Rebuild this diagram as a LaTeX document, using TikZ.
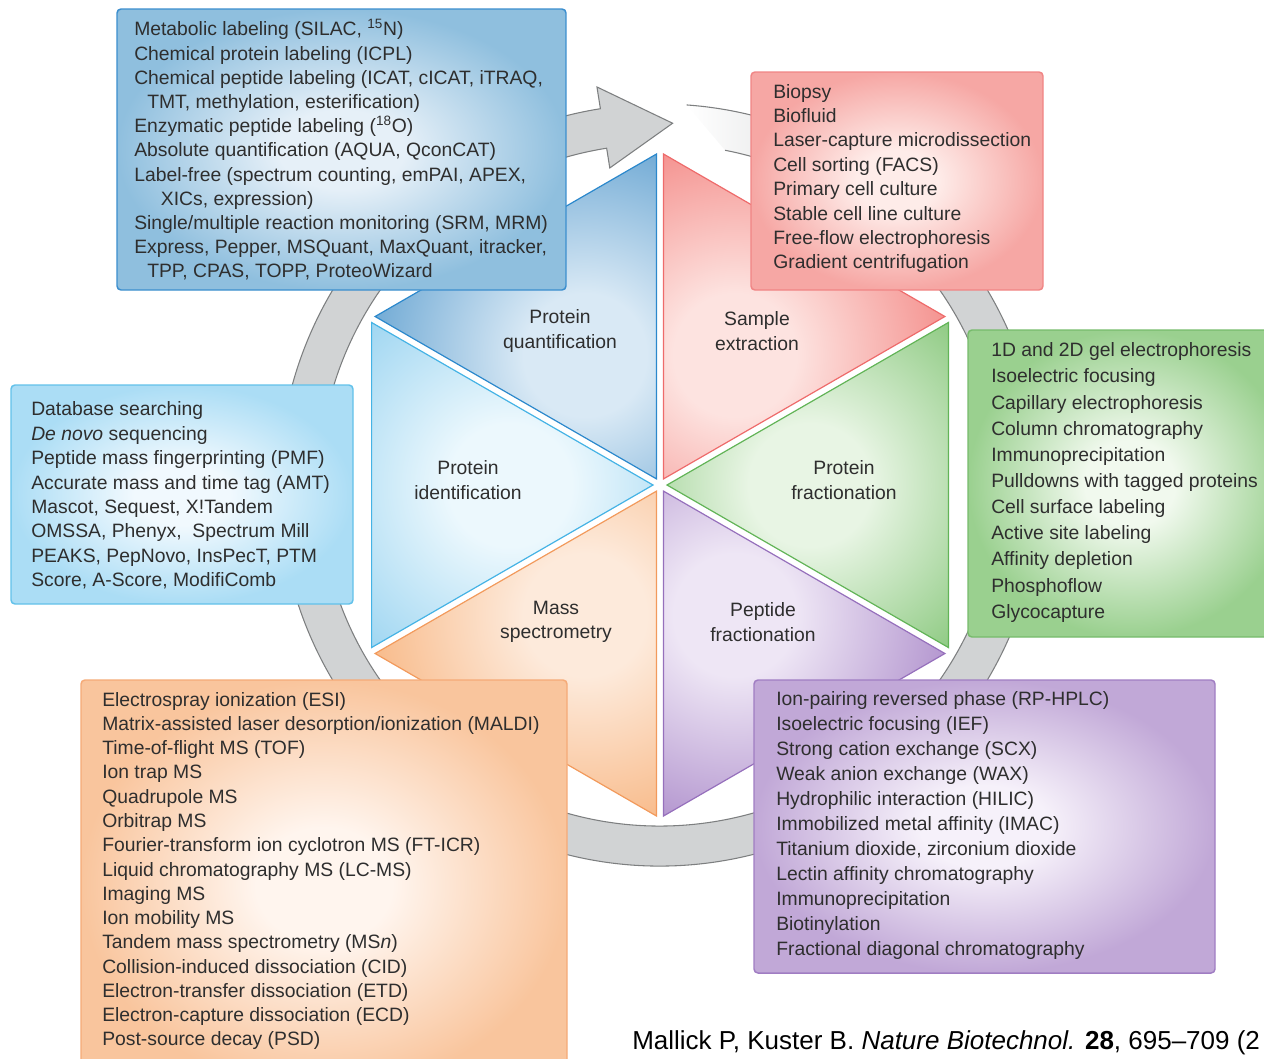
\documentclass[tikz,border=0pt]{standalone}
\usepackage{fontspec}
\setmainfont{Liberation Sans}
\usepackage{tikz}
\usetikzlibrary{calc}
\usepackage{xcolor}

\definecolor{txtgray}{RGB}{46,46,46}
\definecolor{ringfill}{RGB}{209,211,212}
\definecolor{ringedge}{RGB}{125,127,128}
% sector colours
\definecolor{qin}{HTML}{D9E9F5}\definecolor{qout}{HTML}{6FA9D4}\definecolor{qline}{HTML}{2B88CC}
\definecolor{ein}{HTML}{FDE3E0}\definecolor{eout}{HTML}{F4908D}\definecolor{eline}{HTML}{EE6B6B}
\definecolor{pfin}{HTML}{E8F5E4}\definecolor{pfout}{HTML}{8CC980}\definecolor{pfline}{HTML}{62B457}
\definecolor{pein}{HTML}{EEE6F5}\definecolor{peout}{HTML}{B294CE}\definecolor{peline}{HTML}{9670BC}
\definecolor{msin}{HTML}{FDEADB}\definecolor{msout}{HTML}{F8BA89}\definecolor{msline}{HTML}{F29A5C}
\definecolor{idin}{HTML}{ECF8FD}\definecolor{idout}{HTML}{9DD5F1}\definecolor{idline}{HTML}{45B3E5}
% box colours
\definecolor{bqin}{HTML}{E6F0F8}\definecolor{bqout}{HTML}{8FBFDE}\definecolor{bqline}{HTML}{3B8ECE}
\definecolor{bein}{HTML}{FEECE9}\definecolor{beout}{HTML}{F6A7A4}\definecolor{beline}{HTML}{F08585}
\definecolor{bpfin}{HTML}{F1F9EE}\definecolor{bpfout}{HTML}{9AD08F}\definecolor{bpfline}{HTML}{76BB6B}
\definecolor{bidin}{HTML}{F1F9FE}\definecolor{bidout}{HTML}{ABDDF5}\definecolor{bidline}{HTML}{62C1EA}
\definecolor{bmsin}{HTML}{FFF5EE}\definecolor{bmsout}{HTML}{F9C59D}\definecolor{bmsline}{HTML}{F5AA77}
\definecolor{bpein}{HTML}{F6F1FA}\definecolor{bpeout}{HTML}{C1A8D7}\definecolor{bpeline}{HTML}{A07DC3}

\colorlet{glowin}{white}
\colorlet{glowout}{gray}
\pgfdeclareradialshading[glowin,glowout]{glow}{\pgfpoint{0bp}{0bp}}{color(0bp)=(glowin); color(7bp)=(glowin); color(25bp)=(glowout); color(50bp)=(glowout)}

\begin{document}
\begin{tikzpicture}[x=0.75pt,y=0.75pt,yscale=-1,xscale=1,
  softfill/.style 2 args={/utils/exec={\colorlet{glowin}{#1}\colorlet{glowout}{#2}}, shade, shading=glow},
  listbox/.style n args={3}{softfill={#1}{#2}, draw=#3, rounded corners=3pt, line width=1.1pt},
  sectorrim/.style={draw=#1, line width=0.9pt, line join=miter},
  listtext/.style={anchor=west, align=left, inner sep=0pt, text=txtgray, font=\fontsize{14.5}{#1}\selectfont},
  sectorlabel/.style={align=center, inner sep=0pt, text=txtgray, font=\fontsize{14.5}{18.4}\selectfont},
  ring/.style={fill=ringfill, draw=ringedge, line width=0.8pt, line join=miter}]
\useasboundingbox (0,0) rectangle (1264,1058);

%Shape: Ring arrow
\coordinate (ringc) at (660,485);
\draw[ring] ($(ringc)+(-62:381)$) arc[start angle=-62, end angle=261, radius=381] -- ($(ringc)+(261:403)$) -- ($(ringc)+(272:362)$) -- ($(ringc)+(261:321)$) -- ($(ringc)+(261:341)$) arc[start angle=261, end angle=-62, radius=341] -- cycle;
%Shape: Ring tail (fading)
\shade[left color=white, right color=ringfill!75!white] ($(ringc)+(-86:381)$) arc[start angle=-86, end angle=-62, radius=381] -- ($(ringc)+(-62:341)$) arc[start angle=-62, end angle=-79, radius=341] -- cycle;
\draw[ringedge, line width=0.8pt] ($(ringc)+(-86:381)$) arc[start angle=-86, end angle=-62, radius=381];
\draw[ringedge, line width=0.8pt] ($(ringc)+(-79:341)$) arc[start angle=-79, end angle=-62, radius=341];

%Shape: Sector protein quantification
\begin{scope}
\clip (656.5,478.9) -- (656.5,154) -- (375.1,316.5) -- cycle;
\shade[softfill={qin}{qout}] (585,355) circle (220);
\end{scope}
\draw[sectorrim=qline] (656.5,478.9) -- (656.5,154) -- (375.1,316.5) -- cycle;
%Shape: Sector sample extraction
\begin{scope}
\clip (663.5,478.9) -- (663.5,154) -- (944.9,316.5) -- cycle;
\shade[softfill={ein}{eout}] (735,355) circle (220);
\end{scope}
\draw[sectorrim=eline] (663.5,478.9) -- (663.5,154) -- (944.9,316.5) -- cycle;
%Shape: Sector protein fractionation
\begin{scope}
\clip (667,485) -- (948.4,322.5) -- (948.4,647.5) -- cycle;
\shade[softfill={pfin}{pfout}] (810,485) circle (220);
\end{scope}
\draw[sectorrim=pfline] (667,485) -- (948.4,322.5) -- (948.4,647.5) -- cycle;
%Shape: Sector peptide fractionation
\begin{scope}
\clip (663.5,491.1) -- (944.9,653.5) -- (663.5,816) -- cycle;
\shade[softfill={pein}{peout}] (735,615) circle (220);
\end{scope}
\draw[sectorrim=peline] (663.5,491.1) -- (944.9,653.5) -- (663.5,816) -- cycle;
%Shape: Sector mass spectrometry
\begin{scope}
\clip (656.5,491.1) -- (375.1,653.5) -- (656.5,816) -- cycle;
\shade[softfill={msin}{msout}] (585,615) circle (220);
\end{scope}
\draw[sectorrim=msline] (656.5,491.1) -- (375.1,653.5) -- (656.5,816) -- cycle;
%Shape: Sector protein identification
\begin{scope}
\clip (653,485) -- (371.6,322.5) -- (371.6,647.5) -- cycle;
\shade[softfill={idin}{idout}] (510,485) circle (220);
\end{scope}
\draw[sectorrim=idline] (653,485) -- (371.6,322.5) -- (371.6,647.5) -- cycle;

% Text Node
\node (quantlabel) at (560,331) [sectorlabel] {Protein\\quantification};
% Text Node
\node (extractlabel) at (757,331) [sectorlabel] {Sample\\extraction};
% Text Node
\node (protfraclabel) at (844,480) [sectorlabel] {Protein\\fractionation};
% Text Node
\node (pepfraclabel) at (763,622) [sectorlabel] {Peptide\\fractionation};
% Text Node
\node (massspeclabel) at (556,622) [sectorlabel] {Mass\\spectrometry};
% Text Node
\node (identlabel) at (468,480) [sectorlabel] {Protein\\identification};

%Shape: Box protein quantification
\draw[listbox={bqin}{bqout}{bqline}] (117,9) rectangle (566,290);
% Text Node
\node (quantlist) at (134,150) [listtext=18.15] {Metabolic labeling (SILAC, \textsuperscript{15}N)\\
Chemical protein labeling (ICPL)\\
Chemical peptide labeling (ICAT, cICAT, iTRAQ,\\
\hspace*{9.75pt}TMT, methylation, esterification)\\
Enzymatic peptide labeling (\textsuperscript{18}O)\\
Absolute quantification (AQUA, QconCAT)\\
Label-free (spectrum counting, emPAI, APEX,\\
\hspace*{20pt}XICs, expression)\\
Single/multiple reaction monitoring (SRM, MRM)\\
Express, Pepper, MSQuant, MaxQuant, itracker,\\
\hspace*{9.75pt}TPP, CPAS, TOPP, ProteoWizard};

%Shape: Box sample extraction
\draw[listbox={bein}{beout}{beline}] (751,72) rectangle (1043,290);
% Text Node
\node (extractlist) at (773,178.5) [listtext=18.3] {Biopsy\\
Biofluid\\
Laser-capture microdissection\\
Cell sorting (FACS)\\
Primary cell culture\\
Stable cell line culture\\
Free-flow electrophoresis\\
Gradient centrifugation};

%Shape: Box protein fractionation
\draw[listbox={bpfin}{bpfout}{bpfline}] (968,330) rectangle (1292,637);
% Text Node
\node (protfraclist) at (991,482.5) [listtext=19.6] {1D and 2D gel electrophoresis\\
Isoelectric focusing\\
Capillary electrophoresis\\
Column chromatography\\
Immunoprecipitation\\
Pulldowns with tagged proteins\\
Cell surface labeling\\
Active site labeling\\
Affinity depletion\\
Phosphoflow\\
Glycocapture};

%Shape: Box protein identification
\draw[listbox={bidin}{bidout}{bidline}] (11,385) rectangle (353,604);
% Text Node
\node (identlist) at (31,495.5) [listtext=18.3] {Database searching\\
\textit{De novo} sequencing\\
Peptide mass fingerprinting (PMF)\\
Accurate mass and time tag (AMT)\\
Mascot, Sequest, X!Tandem\\
OMSSA, Phenyx,\ \ Spectrum Mill\\
PEAKS, PepNovo, InsPecT, PTM\\
Score, A-Score, ModifiComb};

%Shape: Box mass spectrometry
\draw[listbox={bmsin}{bmsout}{bmsline}] (81,680) rectangle (567,1090);
% Text Node
\node (massspeclist) at (102,871) [listtext=18.2] {Electrospray ionization (ESI)\\
Matrix-assisted laser desorption/ionization (MALDI)\\
Time-of-flight MS (TOF)\\
Ion trap MS\\
Quadrupole MS\\
Orbitrap MS\\
Fourier-transform ion cyclotron MS (FT-ICR)\\
Liquid chromatography MS (LC-MS)\\
Imaging MS\\
Ion mobility MS\\
Tandem mass spectrometry (MS\textit{n})\\
Collision-induced dissociation (CID)\\
Electron-transfer dissociation (ETD)\\
Electron-capture dissociation (ECD)\\
Post-source decay (PSD)};

%Shape: Box peptide fractionation
\draw[listbox={bpein}{bpeout}{bpeline}] (754,680) rectangle (1215,973);
% Text Node
\node (pepfraclist) at (776,825.5) [listtext=18.8] {Ion-pairing reversed phase (RP-HPLC)\\
Isoelectric focusing (IEF)\\
Strong cation exchange (SCX)\\
Weak anion exchange (WAX)\\
Hydrophilic interaction (HILIC)\\
Immobilized metal affinity (IMAC)\\
Titanium dioxide, zirconium dioxide\\
Lectin affinity chromatography\\
Immunoprecipitation\\
Biotinylation\\
Fractional diagonal chromatography};

% Text Node
\node (citation) at (632,1043) [anchor=west, inner sep=0pt, font=\fontsize{19.5}{23}\selectfont] {Mallick P, Kuster B. \textit{Nature Biotechnol.} \textbf{28}, 695–709 (2};

\end{tikzpicture}
\end{document}
